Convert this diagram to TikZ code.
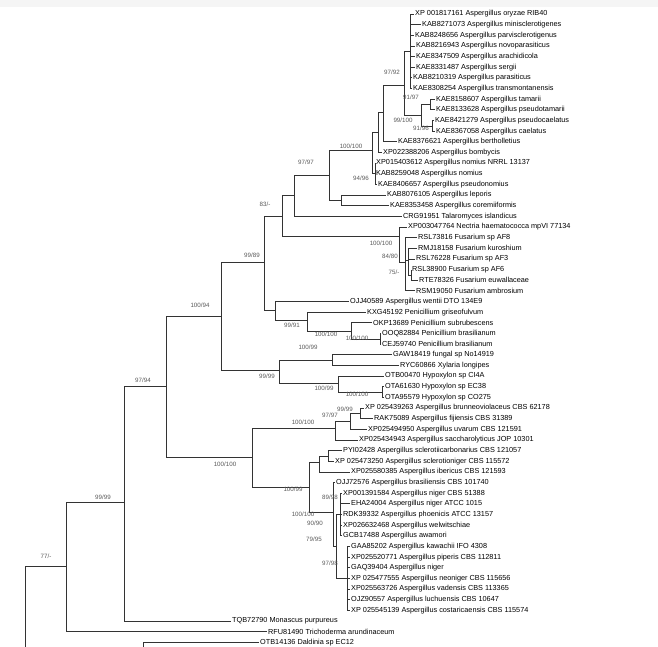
\documentclass[tikz,border=0pt]{standalone}
\usepackage{fontspec}
\setmainfont{Liberation Sans}
\usepackage{xcolor}

\begin{document}
\begin{tikzpicture}[x=1pt,y=-1pt,
    tip/.style={anchor=west,inner sep=1pt,font=\fontsize{7.3}{8}\selectfont},
    boot/.style={inner sep=0pt,text=black!65,font=\fontsize{6.2}{7}\selectfont},
    branch/.style={draw=black!80,line width=0.9pt}]
    \useasboundingbox (0,0) rectangle (658,646);
    \fill[gray!8] (0,0) rectangle (658,7);

    % leaves
    \node[tip] (l0) at (414,14.0) {XP 001817161 Aspergillus oryzae RIB40};
    \node[tip] (l1) at (421,24.7) {KAB8271073 Aspergillus minisclerotigenes};
    \node[tip] (l2) at (414,35.3) {KAB8248656 Aspergillus parvisclerotigenus};
    \node[tip] (l3) at (415,46.0) {KAB8216943 Aspergillus novoparasiticus};
    \node[tip] (l4) at (415,56.6) {KAE8347509 Aspergillus arachidicola};
    \node[tip] (l5) at (415,67.3) {KAE8331487 Aspergillus sergii};
    \node[tip] (l6) at (412,77.9) {KAB8210319 Aspergillus parasiticus};
    \node[tip] (l7) at (412,88.6) {KAE8308254 Aspergillus transmontanensis};
    \node[tip] (l8) at (435,99.2) {KAE8158607 Aspergillus tamarii};
    \node[tip] (l9) at (435,109.9) {KAE8133628 Aspergillus pseudotamarii};
    \node[tip] (l10) at (434,120.5) {KAE8421279 Aspergillus pseudocaelatus};
    \node[tip] (l11) at (435,131.2) {KAE8367058 Aspergillus caelatus};
    \node[tip] (l12) at (397,141.8) {KAE8376621 Aspergillus bertholletius};
    \node[tip] (l13) at (382,152.5) {XP022388206 Aspergillus bombycis};
    \node[tip] (l14) at (375,163.1) {XP015403612 Aspergillus nomius NRRL 13137};
    \node[tip] (l15) at (375,173.8) {KAB8259048 Aspergillus nomius};
    \node[tip] (l16) at (377,184.4) {KAE8406657 Aspergillus pseudonomius};
    \node[tip] (l17) at (386,195.1) {KAB8076105 Aspergillus leporis};
    \node[tip] (l18) at (389,205.7) {KAE8353458 Aspergillus coremiiformis};
    \node[tip] (l19) at (402,216.4) {CRG91951 Talaromyces islandicus};
    \node[tip] (l20) at (407,227.0) {XP003047764 Nectria haematococca mpVI 77134};
    \node[tip] (l21) at (417,237.7) {RSL73816 Fusarium sp AF8};
    \node[tip] (l22) at (417,248.3) {RMJ18158 Fusarium kuroshium};
    \node[tip] (l23) at (415,259.0) {RSL76228 Fusarium sp AF3};
    \node[tip] (l24) at (411,269.6) {RSL38900 Fusarium sp AF6};
    \node[tip] (l25) at (418,280.3) {RTE78326 Fusarium euwallaceae};
    \node[tip] (l26) at (415,290.9) {RSM19050 Fusarium ambrosium};
    \node[tip] (l27) at (349,301.6) {OJJ40589 Aspergillus wentii DTO 134E9};
    \node[tip] (l28) at (366,312.2) {KXG45192 Penicillium griseofulvum};
    \node[tip] (l29) at (372,322.9) {OKP13689 Penicillium subrubescens};
    \node[tip] (l30) at (381,333.5) {OOQ82884 Penicillium brasilianum};
    \node[tip] (l31) at (381,344.2) {CEJ59740 Penicillium brasilianum};
    \node[tip] (l32) at (392,354.8) {GAW18419 fungal sp No14919};
    \node[tip] (l33) at (399,365.5) {RYC60866 Xylaria longipes};
    \node[tip] (l34) at (384,376.1) {OTB00470 Hypoxylon sp CI4A};
    \node[tip] (l35) at (384,386.8) {OTA61630 Hypoxylon sp EC38};
    \node[tip] (l36) at (384,397.4) {OTA95579 Hypoxylon sp CO275};
    \node[tip] (l37) at (364,408.1) {XP 025439263 Aspergillus brunneoviolaceus CBS 62178};
    \node[tip] (l38) at (373,418.7) {RAK75089 Aspergillus fijiensis CBS 31389};
    \node[tip] (l39) at (367,429.4) {XP025494950 Aspergillus uvarum CBS 121591};
    \node[tip] (l40) at (358,440.0) {XP025434943 Aspergillus saccharolyticus JOP 10301};
    \node[tip] (l41) at (342,450.7) {PYI02428 Aspergillus sclerotiicarbonarius CBS 121057};
    \node[tip] (l42) at (334,461.3) {XP 025473250 Aspergillus sclerotioniger CBS 115572};
    \node[tip] (l43) at (350,472.0) {XP025580385 Aspergillus ibericus CBS 121593};
    \node[tip] (l44) at (335,482.6) {OJJ72576 Aspergillus brasiliensis CBS 101740};
    \node[tip] (l45) at (342,493.3) {XP001391584 Aspergillus niger CBS 51388};
    \node[tip] (l46) at (350,503.9) {EHA24004 Aspergillus niger ATCC 1015};
    \node[tip] (l47) at (342,514.6) {RDK39332 Aspergillus phoenicis ATCC 13157};
    \node[tip] (l48) at (342,525.2) {XP026632468 Aspergillus welwitschiae};
    \node[tip] (l49) at (342,535.9) {GCB17488 Aspergillus awamori};
    \node[tip] (l50) at (350,546.5) {GAA85202 Aspergillus kawachii IFO 4308};
    \node[tip] (l51) at (350,557.2) {XP025520771 Aspergillus piperis CBS 112811};
    \node[tip] (l52) at (350,567.8) {GAQ39404 Aspergillus niger};
    \node[tip] (l53) at (350,578.5) {XP 025477555 Aspergillus neoniger CBS 115656};
    \node[tip] (l54) at (350,589.1) {XP025563726 Aspergillus vadensis CBS 113365};
    \node[tip] (l55) at (350,599.8) {OJZ90557 Aspergillus luchuensis CBS 10647};
    \node[tip] (l56) at (350,610.4) {XP 025545139 Aspergillus costaricaensis CBS 115574};
    \node[tip] (l57) at (231,621.1) {TQB72790 Monascus purpureus};
    \node[tip] (l58) at (267,631.7) {RFU81490 Trichoderma arundinaceum};
    \node[tip] (l59) at (259,642.4) {OTB14136 Daldinia sp EC12};

    % internal nodes
    \coordinate (P1) at (410,51);
    \coordinate (T1) at (430,104.5);
    \coordinate (T2) at (432,126);
    \coordinate (T) at (421,115);
    \coordinate (N404) at (404,85);
    \coordinate (N383) at (383,112);
    \coordinate (N378) at (378,132);
    \coordinate (Nom) at (375,173.8);
    \coordinate (N372) at (372,150);
    \coordinate (Lep) at (341,200);
    \coordinate (N329) at (329,175);
    \coordinate (N294) at (294,195);
    \coordinate (F3) at (411,275);
    \coordinate (F2) at (408,260);
    \coordinate (F1) at (405,262);
    \coordinate (F) at (399,236);
    \coordinate (N282) at (282,216);
    \coordinate (Pb) at (380,339);
    \coordinate (Ps) at (351,331);
    \coordinate (Pg) at (307,320);
    \coordinate (Pw) at (275,310);
    \coordinate (N264) at (264,262);
    \coordinate (Xa) at (332,360);
    \coordinate (Hb) at (382,392);
    \coordinate (Ha) at (338,383);
    \coordinate (X) at (279,370);
    \coordinate (N221) at (221,316);
    \coordinate (B1) at (360,413);
    \coordinate (B2) at (350,421);
    \coordinate (B3) at (335,428);
    \coordinate (S1) at (328,456);
    \coordinate (S2) at (319,462);
    \coordinate (G1) at (340,514);
    \coordinate (G2) at (347,578);
    \coordinate (G3) at (336,546);
    \coordinate (G) at (333,512);
    \coordinate (N309) at (309,487);
    \coordinate (N252) at (252,457);
    \coordinate (N166) at (166,386);
    \coordinate (N124) at (124,502);
    \coordinate (N66) at (66,566);
    \coordinate (root) at (25,660);
    \coordinate (D) at (143,660);

    \foreach \p/\c in {P1/l0,P1/l1,P1/l2,P1/l3,P1/l4,P1/l5,P1/l6,P1/l7,
        T1/l8,T1/l9,T2/l10,T2/l11,N383/l12,N378/l13,Nom/l14,Nom/l15,Nom/l16,
        Lep/l17,Lep/l18,N294/l19,F/l20,F1/l21,F2/l22,F2/l23,F3/l24,F3/l25,F1/l26,
        Pw/l27,Pg/l28,Ps/l29,Pb/l30,Pb/l31,Xa/l32,Xa/l33,Ha/l34,Hb/l35,Hb/l36,
        B1/l37,B1/l38,B2/l39,B3/l40,S1/l41,S1/l42,S2/l43,G/l44,
        G1/l45,G1/l46,G1/l47,G1/l48,G1/l49,G2/l50,G2/l51,G2/l52,G2/l53,G2/l54,G2/l55,G2/l56,
        N124/l57,N66/l58,D/l59}
        \draw[branch] (\p) |- (\c.west);
    \foreach \p/\c in {T/T1,T/T2,N404/P1,N404/T,N383/N404,N378/N383,N372/N378,N372/Nom,
        N329/N372,N329/Lep,N294/N329,F2/F3,F1/F2,F/F1,N282/N294,N282/F,
        Ps/Pb,Pg/Ps,Pw/Pg,N264/N282,N264/Pw,Ha/Hb,X/Xa,X/Ha,N221/N264,N221/X,
        B2/B1,B3/B2,S2/S1,G3/G1,G3/G2,G/G3,N309/S2,N309/G,N252/B3,N252/N309,
        N166/N221,N166/N252,N124/N166,N66/N124,root/N66}
        \draw[branch] (\p) |- (\c);
    \draw[branch] (root) -- (D);

    % bootstrap values
    \node[boot] (b1) at (392,72) {97/92};
    \node[boot] (b2) at (411,97) {91/97};
    \node[boot] (b3) at (403,120) {99/100};
    \node[boot] (b4) at (421,128) {91/96};
    \node[boot] (b5) at (351,146) {100/100};
    \node[boot] (b6) at (361,178) {94/96};
    \node[boot] (b7) at (306,162) {97/97};
    \node[boot] (b8) at (265,204) {83/-};
    \node[boot] (b9) at (252,255) {99/89};
    \node[boot] (b10) at (200,305) {100/94};
    \node[boot] (b11) at (143,380) {97/94};
    \node[boot] (b12) at (103,497) {99/99};
    \node[boot] (b13) at (46,556) {77/-};
    \node[boot] (b14) at (381,243) {100/100};
    \node[boot] (b15) at (390,256) {84/80};
    \node[boot] (b16) at (394,272) {75/-};
    \node[boot] (b17) at (292,325) {99/91};
    \node[boot] (b18) at (326,334) {100/100};
    \node[boot] (b19) at (357,338) {100/100};
    \node[boot] (b20) at (308,347) {100/99};
    \node[boot] (b21) at (267,376) {99/99};
    \node[boot] (b22) at (324,388) {100/99};
    \node[boot] (b23) at (357,394) {100/100};
    \node[boot] (b24) at (345,409) {99/99};
    \node[boot] (b25) at (330,415) {97/97};
    \node[boot] (b26) at (303,422) {100/100};
    \node[boot] (b27) at (225,464) {100/100};
    \node[boot] (b28) at (293,489) {100/99};
    \node[boot] (b29) at (330,497) {89/98};
    \node[boot] (b30) at (303,514) {100/100};
    \node[boot] (b31) at (315,523) {90/90};
    \node[boot] (b32) at (314,539) {79/95};
    \node[boot] (b33) at (330,563) {97/98};
\end{tikzpicture}
\end{document}
